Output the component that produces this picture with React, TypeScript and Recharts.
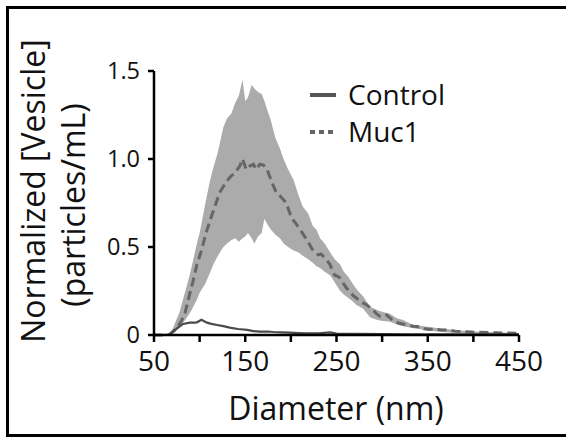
import { Area, ComposedChart, Line, XAxis, YAxis } from "recharts"

// Muc1 mean (dashed)
const muc1Diam = [
  50, 60, 68, 75, 80, 84, 88, 93, 97, 102, 107, 113, 118, 122, 128, 133, 140, 144, 147, 151,
  155, 159, 162, 166, 170, 174, 179, 184, 190, 195, 199, 203, 206, 210, 215, 219, 223, 226,
  230, 233, 236, 240, 243, 246, 248, 251, 254, 258, 261, 265, 268, 272, 276, 280, 283, 287,
  290, 294, 298, 301, 305, 310, 314, 320, 327, 334, 341, 346, 352, 358, 364, 371, 380, 389,
  398, 407, 416, 425, 437, 450,
]
const muc1Mean = [
  0, 0, 0.005, 0.04, 0.08, 0.125, 0.21, 0.31, 0.4, 0.48, 0.58, 0.675, 0.75, 0.81, 0.86, 0.895,
  0.93, 0.96, 1.0, 0.94, 0.96, 0.97, 0.94, 0.97, 0.965, 0.94, 0.87, 0.81, 0.78, 0.75, 0.69, 0.65,
  0.63, 0.6, 0.56, 0.53, 0.49, 0.475, 0.455, 0.46, 0.445, 0.42, 0.4, 0.36, 0.34, 0.335, 0.323,
  0.29, 0.266, 0.245, 0.225, 0.209, 0.19, 0.18, 0.171, 0.155, 0.143, 0.12, 0.105, 0.11, 0.114,
  0.09, 0.076, 0.065, 0.057, 0.05, 0.047, 0.035, 0.032, 0.036, 0.028, 0.029, 0.022, 0.019,
  0.017, 0.015, 0.014, 0.013, 0.011, 0.01,
]

// Muc1 error band
const bandDiam = [
  50, 65, 70, 78, 86, 90, 97, 100, 106, 111, 115, 120, 126, 130, 135, 139, 143, 147, 150, 153,
  157, 160, 164, 168, 171, 174, 178, 183, 188, 192, 197, 203, 208, 213, 219, 224, 228, 232, 237,
  243, 248, 254, 258, 263, 268, 272, 279, 287, 295, 301, 309, 316, 323, 333, 345, 360, 380, 400,
  425, 450,
]
const bandLow = [
  0, 0, 0.005, 0.04, 0.1, 0.13, 0.2, 0.24, 0.29, 0.35, 0.4, 0.45, 0.5, 0.52, 0.54, 0.55, 0.53,
  0.55, 0.56, 0.58, 0.55, 0.52, 0.56, 0.58, 0.66, 0.63, 0.6, 0.57, 0.55, 0.52, 0.5, 0.48, 0.47,
  0.45, 0.43, 0.41, 0.39, 0.38, 0.36, 0.34, 0.3, 0.25, 0.23, 0.21, 0.19, 0.17, 0.15, 0.1, 0.085,
  0.08, 0.075, 0.06, 0.05, 0.04, 0.03, 0.02, 0.012, 0.008, 0.005, 0.003,
]
const bandHigh = [
  0, 0.005, 0.03, 0.13, 0.28, 0.36, 0.52, 0.58, 0.74, 0.87, 0.95, 1.04, 1.18, 1.23, 1.26, 1.32,
  1.36, 1.45, 1.33, 1.35, 1.42, 1.4, 1.38, 1.37, 1.33, 1.28, 1.22, 1.12, 1.06, 1.0, 0.94, 0.88,
  0.8, 0.73, 0.69, 0.62, 0.6, 0.55, 0.52, 0.47, 0.43, 0.4, 0.36, 0.33, 0.29, 0.26, 0.22, 0.16,
  0.14, 0.13, 0.12, 0.095, 0.085, 0.06, 0.05, 0.04, 0.028, 0.02, 0.015, 0.01,
]

// Control mean (solid)
const controlDiam = [
  50, 60, 67, 75, 82, 89, 94, 97, 102, 108, 113, 119, 126, 133, 142, 152, 159, 166, 174, 181,
  190, 199, 208, 217, 230, 243, 250, 270, 300, 330, 360, 400, 450,
]
const controlMean = [
  0, 0, 0.002, 0.038, 0.063, 0.07, 0.07, 0.072, 0.086, 0.07, 0.063, 0.057, 0.05, 0.042, 0.034,
  0.029, 0.022, 0.019, 0.02, 0.017, 0.015, 0.013, 0.011, 0.01, 0.009, 0.015, 0.008, 0.006, 0.005,
  0.004, 0.004, 0.003, 0.003,
]

const xTicks = [50, 100, 150, 200, 250, 300, 350, 400, 450]
const xLabels = [50, 150, 250, 350, 450]
const yTicks = [0, 0.5, 1, 1.5]

const muc1Data = muc1Diam.map((d, i) => ({ d, v: muc1Mean[i] }))
const bandData = bandDiam.map((d, i) => ({ d, range: [bandLow[i], bandHigh[i]] }))
const controlData = controlDiam.map((d, i) => ({ d, v: controlMean[i] }))

const FONT = "'Open Sans', 'Noto Sans', sans-serif"

function YTitle() {
  return (
    <g fontFamily={FONT} fontSize={32} fill="#111">
      <text transform="translate(45,191) rotate(-90)" textAnchor="middle">
        Normalized [Vesicle]
      </text>
      <text transform="translate(85,205) rotate(-90)" textAnchor="middle">
        (particles/mL)
      </text>
    </g>
  )
}

function XTitle() {
  return (
    <text x={336} y={420} textAnchor="middle" fontFamily={FONT} fontSize={32} fill="#111">
      Diameter (nm)
    </text>
  )
}

export default function App() {
  return (
    <div
      style={{
        position: "absolute",
        left: 0,
        top: 0,
        width: 566,
        height: 437,
        background: "#fff",
        overflow: "hidden",
      }}
    >
      <div
        style={{
          position: "absolute",
          left: 6,
          top: 6,
          width: 570,
          height: 431,
          borderLeft: "3px solid #000",
          borderTop: "3px solid #000",
          borderBottom: "3px solid #000",
          boxSizing: "border-box",
        }}
      />
      <ComposedChart
        width={566}
        height={437}
        margin={{ top: 71, right: 47, bottom: 0, left: 0 }}
        style={{ position: "absolute", left: 0, top: 0 }}
      >
        <XAxis
          type="number"
          dataKey="d"
          domain={[50, 450]}
          ticks={xTicks}
          allowDataOverflow
          height={102}
          stroke="#000"
          strokeWidth={2.5}
          tickSize={7}
          tickMargin={9}
          tick={{ fill: "#111", fontSize: 28, fontFamily: FONT }}
          tickFormatter={(v: number) => (xLabels.includes(v) ? String(v) : "")}
          interval={0}
          label={<XTitle />}
        />
        <YAxis
          type="number"
          domain={[0, 1.5]}
          ticks={yTicks}
          width={154}
          stroke="#000"
          strokeWidth={2.5}
          tickSize={6}
          tickMargin={8}
          tick={{ fill: "#111", fontSize: 23.5, fontFamily: FONT }}
          tickFormatter={(v: number) => (v === 0 ? "0" : v.toFixed(1))}
          interval={0}
          label={<YTitle />}
        />
        <Area
          data={bandData}
          dataKey="range"
          type="linear"
          stroke="none"
          fill="#ababab"
          fillOpacity={1}
          isAnimationActive={false}
        />
        <Line
          data={muc1Data}
          dataKey="v"
          type="linear"
          stroke="#666"
          strokeWidth={3}
          strokeDasharray="9 5"
          dot={false}
          isAnimationActive={false}
        />
        <Line
          data={controlData}
          dataKey="v"
          type="linear"
          stroke="#4a4a4a"
          strokeWidth={2.2}
          dot={false}
          isAnimationActive={false}
        />
      </ComposedChart>
      <div
        style={{
          position: "absolute",
          left: 310,
          top: 76,
          fontFamily: FONT,
          fontSize: 28,
          color: "#111",
          lineHeight: "37px",
        }}
      >
        <div style={{ display: "flex", alignItems: "center" }}>
          <svg width={38} height={10}>
            <line x1={0} y1={5} x2={26} y2={5} stroke="#555" strokeWidth={4} />
          </svg>
          <span>Control</span>
        </div>
        <div style={{ display: "flex", alignItems: "center" }}>
          <svg width={38} height={10}>
            <line x1={0} y1={5} x2={26} y2={5} stroke="#666" strokeWidth={4} strokeDasharray="5 4" />
          </svg>
          <span>Muc1</span>
        </div>
      </div>
    </div>
  )
}
